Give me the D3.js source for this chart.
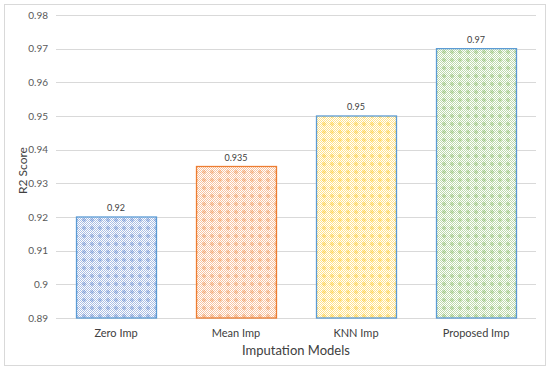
<!DOCTYPE html>
<html>
<head>
<meta charset="utf-8">
<script src="https://cdn.jsdelivr.net/npm/d3@7"></script>
<style>
  body { margin: 0; background: #fff; }
  svg { display: block; font-family: Lato, "Open Sans", sans-serif; }
</style>
</head>
<body>
<svg id="chart"></svg>
<script>
// data
const models = ['Zero Imp', 'Mean Imp', 'KNN Imp', 'Proposed Imp'];
const r2 = [0.92, 0.935, 0.95, 0.97];
const valueLabels = ['0.92', '0.935', '0.95', '0.97'];
const yTicks = [0.89, 0.9, 0.91, 0.92, 0.93, 0.94, 0.95, 0.96, 0.97, 0.98];
const fills = ['#4472c4', '#ed7d31', '#ffc000', '#70ad47'];
const strokes = ['#5b9bd5', '#ed7d31', '#5b9bd5', '#5b9bd5'];

const width = 550, height = 370;
const margin = { top: 15, right: 14, bottom: 52, left: 56 };

const svg = d3.select('#chart').attr('width', width).attr('height', height);

// outer frame
svg.append('rect')
  .attr('x', 4.5).attr('y', 4.5)
  .attr('width', 541).attr('height', 361)
  .attr('fill', '#fff').attr('stroke', '#d9d9d9');

// patterns: fine checker of the colour with a diamond dot per tile
const defs = svg.append('defs');
fills.forEach((c, i) => {
  const p = defs.append('pattern')
    .attr('id', 'pat' + i)
    .attr('patternUnits', 'userSpaceOnUse')
    .attr('width', 8).attr('height', 8);
  p.append('rect').attr('width', 8).attr('height', 8).attr('fill', '#fff');
  for (let yy = 0; yy < 8; yy++) {
    for (let xx = 0; xx < 8; xx++) {
      if ((xx + yy) % 2 === 0) {
        p.append('rect').attr('x', xx).attr('y', yy).attr('width', 1).attr('height', 1)
          .attr('fill', c).attr('opacity', 0.45);
      }
    }
  }
  p.append('path').attr('d', 'M4,1.5 L6.5,4 L4,6.5 L1.5,4 Z').attr('fill', c).attr('opacity', 0.35);
});

const x = d3.scaleBand()
  .domain(models)
  .range([margin.left, width - margin.right])
  .paddingInner(1 / 3)
  .paddingOuter(1 / 6);

const y = d3.scaleLinear()
  .domain([0.89, 0.98])
  .range([height - margin.bottom, margin.top]);

// grid
svg.append('g')
  .selectAll('line')
  .data(yTicks)
  .join('line')
  .attr('x1', margin.left).attr('x2', width - margin.right)
  .attr('y1', d => Math.round(y(d)) + 0.5).attr('y2', d => Math.round(y(d)) + 0.5)
  .attr('stroke', '#d9d9d9');

// y axis labels
const yAxis = svg.append('g')
  .attr('transform', `translate(${margin.left - 8},0)`)
  .call(d3.axisLeft(y).tickValues(yTicks).tickSize(0).tickFormat(d3.format('')));
yAxis.select('.domain').remove();
yAxis.selectAll('text')
  .attr('x', 0)
  .attr('font-size', 10)
  .attr('font-family', 'Lato, sans-serif')
  .attr('fill', '#595959');

// bars
svg.append('g')
  .selectAll('rect')
  .data(models)
  .join('rect')
  .attr('x', d => x(d) + 0.5)
  .attr('y', (d, i) => y(r2[i]))
  .attr('width', x.bandwidth())
  .attr('height', (d, i) => y(0.89) - y(r2[i]))
  .attr('fill', (d, i) => `url(#pat${i})`)
  .attr('stroke', (d, i) => strokes[i])
  .attr('stroke-width', 1.3);

// value labels
svg.append('g')
  .selectAll('text')
  .data(models)
  .join('text')
  .attr('x', d => x(d) + x.bandwidth() / 2)
  .attr('y', (d, i) => y(r2[i]) - 6)
  .attr('text-anchor', 'middle')
  .attr('font-size', 9)
  .attr('fill', '#404040')
  .text((d, i) => valueLabels[i]);

// x axis labels
const xAxis = svg.append('g')
  .attr('transform', `translate(0,${height - margin.bottom})`)
  .call(d3.axisBottom(x).tickSize(0).tickPadding(11));
xAxis.select('.domain').remove();
xAxis.selectAll('text')
  .attr('font-size', 11)
  .attr('font-family', 'Lato, sans-serif')
  .attr('fill', '#404040');

// axis titles
svg.append('text')
  .attr('x', (margin.left + width - margin.right) / 2)
  .attr('y', 355)
  .attr('text-anchor', 'middle')
  .attr('font-size', 13)
  .attr('fill', '#404040')
  .text('Imputation Models');

svg.append('text')
  .attr('transform', `translate(27,${(margin.top + height - margin.bottom) / 2 + 4}) rotate(-90)`)
  .attr('text-anchor', 'middle')
  .attr('font-size', 12)
  .attr('fill', '#404040')
  .text('R2 Score');
</script>
</body>
</html>
